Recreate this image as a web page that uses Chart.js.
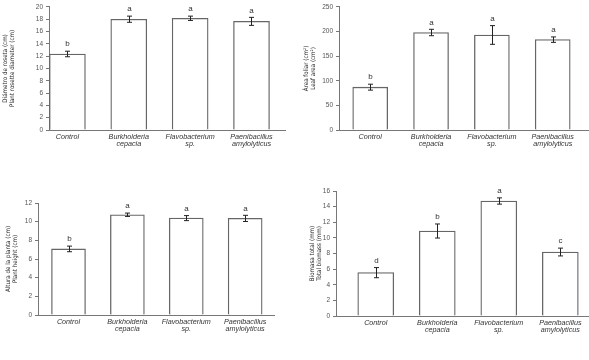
<!DOCTYPE html>
<html>
<head>
<meta charset="utf-8">
<script src="https://cdn.jsdelivr.net/npm/chart.js@4.4.1/dist/chart.umd.min.js"></script>
<style>
html,body{margin:0;padding:0;background:#fff;}
#wrap{position:relative;width:589px;height:360px;overflow:hidden;}
canvas{position:absolute;left:0;top:0;}
</style>
</head>
<body>
<div id="wrap">
<canvas id="c1" width="589" height="360"></canvas>
<canvas id="c2" width="589" height="360"></canvas>
<canvas id="c3" width="589" height="360"></canvas>
<canvas id="c4" width="589" height="360"></canvas>
</div>
<script>
// ---- data ----
const categories = [['Control'], ['Burkholderia', 'cepacia'], ['Flavobacterium', 'sp.'], ['Paenibacillus', 'amylolyticus']];

const diameterValues = [12.35, 18.0, 18.15, 17.65];
const diameterErrors = [0.45, 0.5, 0.35, 0.65];
const diameterLetters = ['b', 'a', 'a', 'a'];
const diameterTitle = ['Diámetro de roseta (cm)', 'Plant rosette diameter (cm)'];

const leafAreaValues = [87, 198, 193, 183.5];
const leafAreaErrors = [6, 6.5, 19, 5.5];
const leafAreaLetters = ['b', 'a', 'a', 'a'];
const leafAreaTitle = ['Área foliar (cm²)', 'Leaf area (cm²)'];

const heightValues = [7.08, 10.74, 10.38, 10.35];
const heightErrors = [0.3, 0.18, 0.27, 0.33];
const heightLetters = ['b', 'a', 'a', 'a'];
const heightTitle = ['Altura de la planta (cm)', 'Plant height (cm)'];

const biomassValues = [5.55, 10.88, 14.72, 8.19];
const biomassErrors = [0.65, 0.9, 0.4, 0.5];
const biomassLetters = ['d', 'b', 'a', 'c'];
const biomassTitle = ['Biomasa total (mm)', 'Total biomass (mm)'];

// ---- drawing ----
Chart.defaults.font.family = '"Liberation Sans", Arial, sans-serif';
Chart.defaults.color = '#444';

const errorBarPlugin = {
  id: 'errorBars',
  afterDatasetsDraw(chart) {
    const ctx = chart.ctx;
    const xs = chart.scales.x, ys = chart.scales.y;
    const ds = chart.data.datasets[0];
    ctx.save();
    ctx.strokeStyle = '#222';
    ctx.lineWidth = 1;
    ds.data.forEach((pt, i) => {
      const e = ds.errors[i];
      const x = Math.round(xs.getPixelForValue(pt.x)) + 0.5;
      const yT = ys.getPixelForValue(pt.y + e);
      const yB = ys.getPixelForValue(pt.y - e);
      ctx.beginPath();
      ctx.moveTo(x, yT); ctx.lineTo(x, yB);
      ctx.moveTo(x - 2.5, yT); ctx.lineTo(x + 2.5, yT);
      ctx.moveTo(x - 2.5, yB); ctx.lineTo(x + 2.5, yB);
      ctx.stroke();
      ctx.fillStyle = '#333';
      ctx.font = '8px "Liberation Sans", Arial, sans-serif';
      ctx.textAlign = 'center';
      ctx.textBaseline = 'middle';
      ctx.fillText(ds.letters[i], x, yT - 7);
    });
    ctx.restore();
  }
};

function makeChart(id, p) {
  const W = 589, H = 360;
  const yW = p.L - p.padL;
  const xH = 26;
  new Chart(document.getElementById(id), {
    type: 'bar',
    data: {
      datasets: [{
        data: p.values.map((v, i) => ({x: i, y: v})),
        errors: p.errors,
        letters: p.letters,
        backgroundColor: '#ffffff',
        borderColor: '#666',
        borderWidth: 1.3,
        borderSkipped: 'bottom',
        barThickness: p.bar
      }]
    },
    options: {
      responsive: false,
      animation: false,
      devicePixelRatio: 1,
      layout: {padding: {left: p.padL, right: W - p.R, top: p.T, bottom: H - p.B - xH}},
      plugins: {legend: {display: false}, tooltip: {enabled: false}},
      scales: {
        x: {
          type: 'linear',
          offset: false,
          min: p.xmin, max: p.xmax,
          afterFit: s => { s.height = xH; },
          afterBuildTicks: s => { s.ticks = categories.map((c, i) => ({value: i})); },
          grid: {display: false, offset: false, drawTicks: false},
          border: {display: true, color: '#777', width: 1},
          ticks: {
            autoSkip: false, maxRotation: 0, padding: 3,
            color: '#333',
            font: {size: 7.2, style: 'italic', lineHeight: 1.02},
            callback: v => categories[v]
          }
        },
        y: {
          min: 0, max: p.ymax,
          afterFit: s => { s.width = yW; },
          grid: {drawOnChartArea: false, drawTicks: true, tickLength: 3, color: '#777'},
          border: {display: true, color: '#777', width: 1},
          ticks: {stepSize: p.step, padding: 3, color: '#555', font: {size: 6.5}},
          title: {
            display: true, text: p.title, color: '#222',
            font: {size: 6.2, family: '"Liberation Sans Narrow", "DejaVu Sans Condensed", sans-serif', lineHeight: 1.1},
            padding: {top: 0, bottom: 0}
          }
        }
      }
    },
    plugins: [errorBarPlugin]
  });
}

makeChart('c1', {values: diameterValues, errors: diameterErrors, letters: diameterLetters, title: diameterTitle,
  L: 49, R: 285, T: 5, B: 130, padL: 2, xmin: -0.30, xmax: 3.546, ymax: 20, step: 2, bar: 36});
makeChart('c2', {values: leafAreaValues, errors: leafAreaErrors, letters: leafAreaLetters, title: leafAreaTitle,
  L: 339, R: 588, T: 5, B: 130, padL: 303, xmin: -0.513, xmax: 3.58, ymax: 250, step: 50, bar: 35});
makeChart('c3', {values: heightValues, errors: heightErrors, letters: heightLetters, title: heightTitle,
  L: 38, R: 274, T: 203, B: 315, padL: 5, xmin: -0.518, xmax: 3.49, ymax: 12, step: 2, bar: 34});
makeChart('c4', {values: biomassValues, errors: biomassErrors, letters: biomassLetters, title: biomassTitle,
  L: 336, R: 588, T: 191, B: 316, padL: 309, xmin: -0.646, xmax: 3.45, ymax: 16, step: 2, bar: 36});
</script>
</body>
</html>
